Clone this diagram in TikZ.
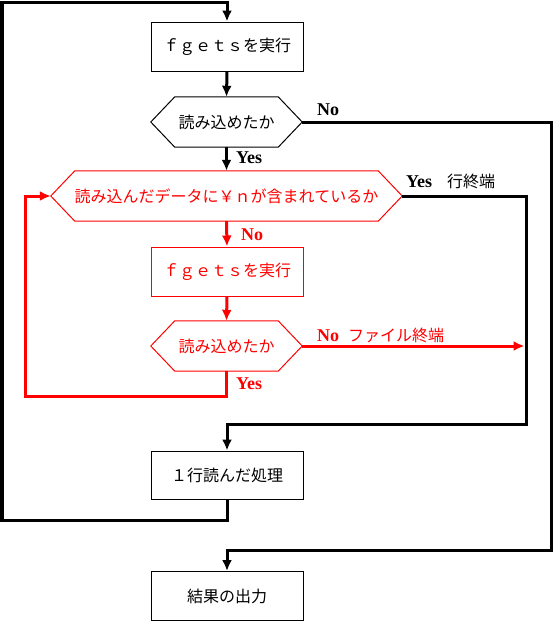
\documentclass[tikz,border=0pt]{standalone}
\usepackage{fontspec}
\setmainfont{Liberation Serif}
\newfontfamily\jpfont{Noto Sans CJK JP}
\usetikzlibrary{arrows.meta}
\definecolor{fcInk}{HTML}{000000}
\definecolor{fcRed}{HTML}{FF0000}
\tikzset{
  fc diagram/.style={x=1pt, y=-1pt, line join=miter, text=fcInk},
  fc jp/.style={font=\jpfont\fontsize{16}{19}\selectfont},
  fc box/.style={fc jp, draw=fcInk, line width=1pt, minimum width=152pt,
    minimum height=49pt, inner sep=0pt},
  fc hex/.style={fc jp, minimum height=50pt, inner sep=0pt},
  fc flow/.style={-{Latex[length=11pt,width=10pt]}, draw=fcInk, line width=3pt},
  fc yesno/.style={font=\bfseries\fontsize{18}{20}\selectfont, anchor=west,
    inner sep=0pt}
}
% hexagon drawn round a plain node
\newcommand\fcdecision[2]{%
  \draw[line width=1pt, #2] ([xshift=24pt]#1.north west) -- ([xshift=-24pt]#1.north east)
    -- (#1.east) -- ([xshift=-24pt]#1.south east) -- ([xshift=24pt]#1.south west)
    -- (#1.west) -- cycle;}
\newcommand\fcjptext[1]{{\jpfont\fontsize{16}{19}\selectfont\mdseries #1}}

\begin{document}
\begin{tikzpicture}[fc diagram]
\useasboundingbox (0,0) rectangle (553,622);
% nodes
\node[fc box] (read) at (227,46.5) {ｆｇｅｔｓを実行};
\node[fc hex, minimum width=151pt] (gotLine) at (226.5,122) {読み込めたか};
\node[fc hex, minimum width=351pt, text=fcRed] (hasNl) at (226.5,196) {読み込んだデータに￥ｎが含まれているか};
\node[fc box, draw=fcRed, text=fcRed] (readMore) at (227,271.5) {ｆｇｅｔｓを実行};
\node[fc hex, minimum width=151pt, text=fcRed] (gotMore) at (226.5,346) {読み込めたか};
\node[fc box, minimum height=48pt] (process) at (227,475) {１行読んだ処理};
\node[fc box] (output) at (227,596) {結果の出力};
\fcdecision{gotLine}{draw=fcInk}
\fcdecision{hasNl}{draw=fcRed}
\fcdecision{gotMore}{draw=fcRed}
% turning points
\coordinate (loopL) at (2,520);
\coordinate (loopT) at (2,2);
\coordinate (endR) at (551,550);
\coordinate (eolR) at (526,424);
\coordinate (eofEnd) at (524.5,346);
\coordinate (retL) at (25,396);
% black flow
\draw[fc flow] (process.south) |- (loopL) -- (loopT) -| (read.north);
\draw[fc flow] (read.south) -- (gotLine.north);
\draw[fc flow] (gotLine.south) -- (hasNl.north);
\draw[fc flow] (gotLine.east) -| (endR) -| (output.north);
\draw[fc flow] (hasNl.east) -| (eolR) -| (process.north);
% red flow
\draw[fc flow, draw=fcRed] (hasNl.south) -- (readMore.north);
\draw[fc flow, draw=fcRed] (readMore.south) -- (gotMore.north);
\draw[fc flow, draw=fcRed] (gotMore.east) -- (eofEnd);
\draw[fc flow, draw=fcRed] (gotMore.south) |- (retL) |- (hasNl.west);
% labels
\node[fc yesno] (noA) at (317,110) {No};
\node[fc yesno] (yesA) at (236,158) {Yes};
\node[fc yesno] (yesB) at (406,181) {Yes\hspace{15pt}\fcjptext{行終端}};
\node[fc yesno, text=fcRed] (noB) at (241,235) {No};
\node[fc yesno, text=fcRed] (noC) at (317,335) {No\hspace{9pt}\fcjptext{ファイル終端}};
\node[fc yesno, text=fcRed] (yesC) at (236,384) {Yes};
\end{tikzpicture}
\end{document}
